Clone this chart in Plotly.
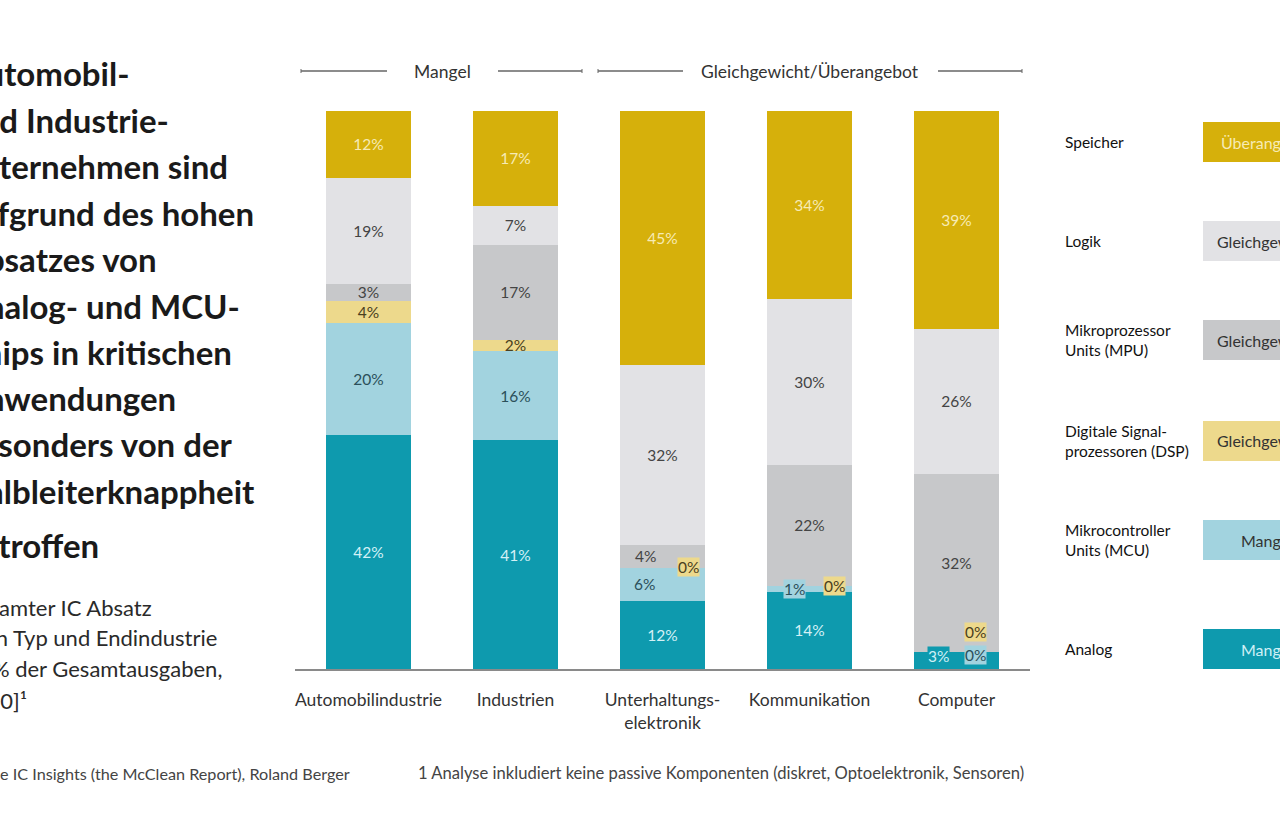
import plotly.graph_objects as go

# ---------------- data ----------------
categories = ["Automobilindustrie", "Industrien", "Unterhaltungs-<br>elektronik", "Kommunikation", "Computer"]
series_names = ["Analog", "Mikrocontroller Units (MCU)", "Digitale Signalprozessoren (DSP)",
                "Mikroprozessor Units (MPU)", "Logik", "Speicher"]
analog  = [42, 41, 12, 14, 3]
mcu     = [20, 16, 6, 1, 0]
dsp     = [4, 2, 0, 0, 0]
mpu     = [3, 17, 4, 22, 32]
logik   = [19, 7, 32, 30, 26]
speicher = [12, 17, 45, 34, 39]
values = [analog, mcu, dsp, mpu, logik, speicher]

legend_labels = ["Analog", "Mikrocontroller<br>Units (MCU)", "Digitale Signal-<br>prozessoren (DSP)",
                 "Mikroprozessor<br>Units (MPU)", "Logik", "Speicher"]
legend_states = ["Mangel", "Mangel", "Gleichgewicht", "Gleichgewicht", "Gleichgewicht", "Überangebot"]

title_lines = ["Automobil-", "und Industrie-", "unternehmen sind", "aufgrund des hohen", "Absatzes von",
               "Analog- und MCU-", "Chips in kritischen", "Anwendungen", "besonders von der",
               "Halbleiterknappheit", "betroffen"]
subtitle_lines = ["Gesamter IC Absatz", "nach Typ und Endindustrie", "[in % der Gesamtausgaben,", "2020]¹"]
source_text = "Quelle IC Insights (the McClean Report), Roland Berger"
footnote_text = "1 Analyse inkludiert keine passive Komponenten (diskret, Optoelektronik, Sensoren)"
group_labels = ["Mangel", "Gleichgewicht/Überangebot"]

# ---------------- styles ----------------
FONT = "Lato"
colors = ["#0E9AAE", "#A2D3DF", "#EDD98C", "#C7C8CA", "#E2E2E5", "#D6B00B"]
text_colors = ["#D4F1F6", "#2B4F5A", "#4A4020", "#444444", "#444444", "#F6EBB5"]
box_text_colors = ["#CFF0F6", "#333333", "#333333", "#333333", "#333333", "#F6EBB5"]

W, H = 1280, 837
L, R, T, B = 295, 250, 111, 168
PW, PH = W - L - R, H - T - B


def px(x):
    return (x - L) / PW


def py(y):
    return (H - B - y) / PH


# special small labels: (series index, category index) -> offsets/styles
special = {
    (3, 2): dict(dx=-17, dy=0, bg=None),
    (1, 2): dict(dx=-18, dy=0, bg=None),
    (2, 2): dict(dx=26, dy=-1, bg=colors[2]),
    (1, 3): dict(dx=-15, dy=0, bg=colors[1]),
    (2, 3): dict(dx=25, dy=0, bg=colors[2]),
    (0, 4): dict(dx=-18, dy=-5, bg=colors[0]),
    (1, 4): dict(dx=19, dy=3, bg=colors[1]),
    (2, 4): dict(dx=19, dy=-20, bg=colors[2]),
}

fig = go.Figure()
annotations = []
totals = [sum(v[c] for v in values) for c in range(len(categories))]

for s, (name, vals) in enumerate(zip(series_names, values)):
    texts = []
    for c, v in enumerate(vals):
        texts.append("" if (s, c) in special else f"{v}%")
    fig.add_trace(go.Bar(
        x=categories, y=vals, name=name,
        marker=dict(color=colors[s], line=dict(width=0)),
        text=texts, textposition="inside", insidetextanchor="middle",
        constraintext="none",
        textfont=dict(family=FONT, size=15.5, color=text_colors[s]),
        hoverinfo="skip", showlegend=False,
    ))

# special annotations computed from data
for (s, c), st in special.items():
    below = sum(values[k][c] for k in range(s))
    mid = (below + values[s][c] / 2) / totals[c] * 100
    annotations.append(dict(
        x=categories[c], y=mid, xref="x", yref="y", text=f"{values[s][c]}%",
        showarrow=False, xshift=st["dx"], yshift=-st["dy"],
        font=dict(family=FONT, size=15.5,
                  color=(text_colors[s] if s != 0 else "#CFF0F6")),
        bgcolor=st["bg"], borderpad=0,
    ))

# title lines (cut at left edge)
title_y = [73, 120, 166, 213, 259, 306, 352, 398, 444, 491, 545]
for line, yy in zip(title_lines, title_y):
    annotations.append(dict(x=px(-40), y=py(yy), xref="paper", yref="paper", text=f"<b>{line}</b>",
                            showarrow=False, xanchor="left", yanchor="middle",
                            font=dict(family=FONT, size=33, color="#1a1a1a")))
sub_y = [607, 637, 668, 700]
for line, yy in zip(subtitle_lines, sub_y):
    annotations.append(dict(x=px(-40), y=py(yy), xref="paper", yref="paper", text=line,
                            showarrow=False, xanchor="left", yanchor="middle",
                            font=dict(family=FONT, size=22, color="#2a2a2a")))
annotations.append(dict(x=px(-40), y=py(773), xref="paper", yref="paper", text=source_text,
                        showarrow=False, xanchor="left", yanchor="middle",
                        font=dict(family=FONT, size=16.2, color="#444444")))
annotations.append(dict(x=px(416), y=py(773), xref="paper", yref="paper", text=footnote_text,
                        showarrow=False, xanchor="left", yanchor="middle",
                        font=dict(family=FONT, size=16.6, color="#444444")))

# group headers
shapes = []
grp = [(442, [(301, 387), (498, 582)]), (810, [(598, 683), (938, 1022)])]
for label, (cx, segs) in zip(group_labels, grp):
    annotations.append(dict(x=px(cx), y=py(71), xref="paper", yref="paper", text=label,
                            showarrow=False, xanchor="center", yanchor="middle",
                            font=dict(family=FONT, size=17.5, color="#333333")))
    for x0, x1 in segs:
        shapes.append(dict(type="line", xref="paper", yref="paper", x0=px(x0), x1=px(x1),
                           y0=py(71), y1=py(71), line=dict(color="#666666", width=1.5)))
    for xe in (segs[0][0], segs[1][1]):
        shapes.append(dict(type="line", xref="paper", yref="paper", x0=px(xe), x1=px(xe),
                           y0=py(69), y1=py(73), line=dict(color="#666666", width=1)))

# legend on right (cut at right edge)
leg_box_y = [649, 540, 441, 340, 241, 142]
for s in range(len(series_names)):
    yc = leg_box_y[s]
    shapes.append(dict(type="rect", xref="paper", yref="paper", x0=px(1203), x1=px(1330),
                       y0=py(yc + 20), y1=py(yc - 20), fillcolor=colors[s], line=dict(width=0)))
    annotations.append(dict(x=px(1267), y=py(yc), xref="paper", yref="paper", text=legend_states[s],
                            showarrow=False, xanchor="center", yanchor="middle",
                            font=dict(family=FONT, size=16, color=box_text_colors[s])))
    annotations.append(dict(x=px(1063), y=py(yc), xref="paper", yref="paper", text=legend_labels[s],
                            showarrow=False, xanchor="left", yanchor="middle", align="left",
                            font=dict(family=FONT, size=15.5, color="#111111")))

fig.update_layout(
    width=W, height=H,
    margin=dict(l=L, r=R, t=T, b=B, pad=0),
    barmode="stack", barnorm="percent", bargap=0.42,
    plot_bgcolor="white", paper_bgcolor="white",
    font=dict(family=FONT, size=15, color="#333333"),
    xaxis=dict(showline=True, linecolor="#8a8a8a", linewidth=2, ticks="", showgrid=False,
               ticklabelstandoff=14,
               tickfont=dict(family=FONT, size=17.5, color="#333333"), fixedrange=True),
    yaxis=dict(range=[0, 100], visible=False, showgrid=False, fixedrange=True),
    annotations=annotations, shapes=shapes,
    showlegend=False,
)

fig.write_html("out.html", config={"displayModeBar": False},
               post_script="document.body.style.margin='0';document.body.style.overflow='hidden';")
